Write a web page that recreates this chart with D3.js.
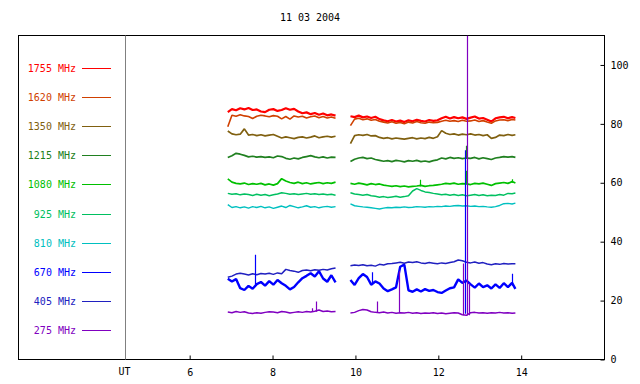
<!DOCTYPE html>
<html lang="en">
<head>
<meta charset="UTF-8">
<title>11 03 2004</title>
<script src="https://d3js.org/d3.v7.min.js"></script>
<style>
    *{margin:0;padding:0}
    body{background:#fff}
    svg text{font-family:"DejaVu Sans Mono",monospace;font-size:10px}
    .lines path{fill:none;stroke-linejoin:bevel}
</style>
</head>
<body>
<div id="chart"></div>
<script>
    // sampling times (UT hours) of the two recording sessions
    var hours1 = [6.92,7.02,7.12,7.22,7.32,7.42,7.52,7.62,7.72,7.82,7.92,8.02,8.12,8.22,8.32,8.42,8.52,8.62,8.72,8.82,8.92,9.02,9.12,9.22,9.32,9.42,9.52];
    var hours2 = [9.88,9.98,10.08,10.18,10.28,10.38,10.48,10.58,10.68,10.78,10.88,10.98,11.08,11.18,11.28,11.38,11.48,11.58,11.68,11.78,11.88,11.98,12.08,12.18,12.28,12.38,12.48,12.58,12.68,12.78,12.88,12.98,13.08,13.18,13.28,13.38,13.48,13.58,13.68,13.78,13.86];

    var channels = ['1755 MHz','1620 MHz','1350 MHz','1215 MHz','1080 MHz','925 MHz','810 MHz','670 MHz','405 MHz','275 MHz'];
    var colors = ['#ff0000','#d04000','#806010','#208020','#00c000','#00c060','#00c0c0','#0000ff','#2020c0','#8000c0'];
    // the noisier records look heavier in the original plot
    var widths = [2.2, 1.6, 1.7, 1.7, 1.7, 1.5, 1.4, 2.4, 1.5, 1.5];

    var s1755 = [
        [84.0,85.0,84.6,85.3,84.9,85.4,84.7,84.9,84.2,84.0,84.8,85.0,84.4,84.7,85.3,84.8,85.1,84.2,83.6,83.9,83.3,83.7,83.1,83.5,82.9,83.2,82.8],
        [82.6,82.3,82.8,82.2,82.5,82.0,82.4,81.6,81.2,80.9,81.3,80.8,81.1,80.6,81.2,80.9,81.4,81.0,80.8,81.3,81.0,81.2,81.9,82.4,81.8,82.3,81.9,82.2,81.7,82.1,82.5,81.8,82.0,81.4,80.8,81.9,82.2,82.4,81.9,82.3,82.0]
    ];
    var s1620 = [
        [79.0,82.9,82.6,83.1,82.7,82.5,81.8,82.6,82.9,82.7,82.4,82.8,82.6,81.7,82.5,81.6,82.7,82.3,82.6,82.0,82.4,82.7,82.1,82.5,82.0,82.3,81.9],
        [79.4,81.6,81.9,81.4,81.7,81.2,81.5,80.9,80.6,80.3,80.7,80.2,80.5,80.0,80.6,80.3,80.8,80.4,80.2,80.6,80.4,80.5,80.9,81.2,80.9,81.1,80.8,81.2,80.9,81.0,81.3,80.8,81.1,80.6,80.2,81.0,81.3,81.4,81.1,81.5,81.3]
    ];
    var s1350 = [
        [77.6,76.6,76.3,76.5,78.3,76.2,76.4,76.0,76.3,75.9,76.2,76.4,75.8,75.2,75.6,75.3,75.0,75.4,75.6,75.2,75.5,75.9,75.3,75.6,75.8,75.5,75.8],
        [73.3,76.0,76.3,76.1,76.4,75.9,76.0,75.4,75.1,75.3,74.9,75.2,75.0,74.8,75.1,75.3,74.9,75.2,75.0,75.4,75.1,75.6,77.7,76.8,76.4,76.6,76.2,76.5,76.3,76.6,76.2,76.4,76.0,76.3,75.1,75.4,76.2,76.0,76.4,76.1,76.3]
    ];
    var s1215 = [
        [68.6,69.2,70.0,69.7,69.3,68.8,69.0,68.7,68.9,68.6,68.8,68.5,69.1,68.9,68.3,68.0,68.4,68.1,68.6,68.9,69.2,68.8,68.5,68.8,68.4,68.7,68.6],
        [67.2,68.0,68.4,68.6,68.2,68.4,67.9,67.6,67.3,67.5,67.2,67.6,67.4,67.1,67.5,67.3,67.6,67.2,67.4,67.1,67.5,67.8,68.4,68.1,68.6,68.3,68.5,68.2,68.4,68.3,68.6,68.1,68.5,68.2,67.9,68.4,68.6,68.9,68.7,68.9,68.6]
    ];
    var s1080 = [
        [61.3,60.2,59.8,59.6,59.9,59.4,59.7,59.5,59.8,59.3,59.6,59.2,59.7,61.4,60.6,60.1,59.8,60.2,59.7,60.0,59.6,59.9,60.1,59.7,60.0,59.8,60.2],
        [59.8,59.5,59.9,59.6,59.3,59.7,59.4,59.6,59.2,59.0,58.8,59.0,58.7,58.9,58.6,58.8,58.9,59.1,58.8,59.0,59.1,59.3,59.5,59.8,59.6,59.9,59.5,59.7,59.6,59.4,59.8,59.6,59.9,59.5,59.1,59.7,59.9,60.1,59.8,60.4,59.9]
    ];
    var s925 = [
        [56.4,56.1,56.3,55.9,56.2,56.0,55.7,56.1,55.8,56.0,55.6,55.9,56.2,56.6,56.4,56.1,56.3,56.0,56.2,56.4,56.1,56.3,56.0,56.2,55.9,56.1,55.8],
        [56.6,56.2,56.0,55.8,56.0,55.6,55.4,55.1,55.3,55.0,55.2,55.4,55.1,55.3,55.6,57.2,58.0,57.4,56.9,56.7,56.4,56.2,55.9,56.1,55.8,56.0,55.7,55.9,55.6,55.8,56.0,55.7,55.9,55.6,55.8,55.7,56.0,55.8,56.4,56.3,56.5]
    ];
    var s810 = [
        [52.6,51.6,51.9,51.5,51.8,51.4,51.9,51.6,52.0,51.5,51.8,51.3,51.7,52.1,51.6,52.3,51.9,51.5,51.8,52.2,51.7,51.9,51.5,51.8,52.0,51.7,51.9],
        [52.8,52.2,52.0,51.8,51.7,51.5,51.3,51.1,51.4,51.6,51.5,51.7,51.6,51.8,51.6,51.7,51.9,51.8,51.7,51.9,51.8,52.0,51.9,52.1,52.0,52.2,52.3,52.1,52.2,52.0,52.1,51.9,52.0,51.8,51.7,51.9,52.3,52.9,53.0,52.8,53.1]
    ];
    var s670 = [
        [27.4,26.5,27.3,24.2,23.6,25.0,24.0,25.6,26.3,25.1,26.6,25.4,27.0,25.9,25.0,23.8,24.6,26.2,27.6,28.4,29.3,28.2,30.0,27.5,26.4,28.6,26.2],
        [27.0,25.3,27.6,29.0,28.0,25.4,26.5,25.8,24.1,23.2,23.8,24.5,31.5,32.2,23.5,23.0,23.8,23.1,23.9,23.3,23.6,22.9,22.6,23.4,24.2,24.5,27.2,26.0,26.8,25.5,24.4,25.8,24.6,25.2,24.1,25.5,24.3,25.9,24.6,26.0,24.0]
    ];
    var s405 = [
        [27.9,28.3,29.0,29.3,29.0,28.7,29.1,28.8,29.2,29.0,29.3,28.9,29.4,29.1,30.6,30.2,30.0,29.6,30.2,30.4,30.1,30.5,30.3,30.6,30.4,30.8,31.1],
        [31.8,32.1,31.9,32.2,31.8,32.0,31.7,32.3,32.1,32.5,32.6,32.8,33.0,32.7,33.1,32.9,33.2,32.8,32.6,32.9,32.7,32.5,32.8,32.6,32.9,33.2,33.8,33.5,33.0,32.8,33.1,32.7,32.9,32.4,32.2,32.5,32.3,32.6,32.4,32.5,32.5]
    ];
    var s275 = [
        [16.1,15.9,16.3,16.0,16.2,15.8,15.6,15.9,15.7,16.0,16.2,16.1,15.9,16.3,16.1,15.8,16.0,16.2,16.0,16.3,16.1,16.4,16.8,16.3,16.5,16.2,16.3],
        [15.8,16.0,16.6,17.0,16.8,16.2,16.0,15.9,16.1,15.8,16.0,15.7,15.9,15.8,16.0,15.7,15.9,15.6,15.8,15.7,15.9,15.6,15.8,15.5,15.7,15.9,15.8,15.2,15.0,15.9,16.0,15.8,15.9,15.7,15.9,15.8,16.0,15.8,15.9,15.7,15.8]
    ];
    var series = [s1755,s1620,s1350,s1215,s1080,s925,s810,s670,s405,s275];

    // short bursts: channel index, time, base and peak value
    var spikes = [
        {ch:7, t:7.58, lo:25.5, hi:35.6},
        {ch:7, t:10.40, lo:26.0, hi:29.6},
        {ch:7, t:13.77, lo:25.0, hi:29.1},
        {ch:7, t:12.64, lo:15.5, hi:71.0},
        {ch:3, t:12.68, lo:68.3, hi:72.6},
        {ch:4, t:12.68, lo:59.5, hi:64.1},
        {ch:4, t:11.56, lo:58.8, hi:61.0},
        {ch:4, t:13.77, lo:60.0, hi:61.2},
        {ch:9, t:8.95, lo:16.2, hi:17.4},
        {ch:9, t:9.05, lo:16.2, hi:19.7},
        {ch:9, t:10.52, lo:15.9, hi:19.7},
        {ch:9, t:11.06, lo:15.8, hi:30.0},
        {ch:9, t:12.60, lo:15.0, hi:32.6},
        {ch:9, t:12.74, lo:15.0, hi:25.8},
        {ch:9, t:12.70, lo:15.0, hi:110}
    ];

    var xTicks = [6, 8, 10, 12, 14];
    var yTicks = [0, 20, 40, 60, 80, 100];
    var title = '11 03 2004';
    var utHour = 4.43;

    var width = 640, height = 384;
    var mLeft = 18.5, mRight = 604.5, mTop = 35.5, mBottom = 359.5;

    var svg = d3.select('#chart').append('svg')
        .attr('width', width)
        .attr('height', height);

    var x = d3.scaleLinear().domain([1.87, 16.01]).range([mLeft, mRight]);
    var y = d3.scaleLinear().domain([0, 110]).range([mBottom, mTop]);

    svg.append('defs').append('clipPath').attr('id', 'plot')
        .append('rect')
        .attr('x', mLeft).attr('y', mTop)
        .attr('width', mRight - mLeft).attr('height', mBottom - mTop);

    // title
    svg.append('text')
        .attr('x', 310).attr('y', 21)
        .attr('text-anchor', 'middle')
        .text(title);

    // frame
    svg.append('rect')
        .attr('x', mLeft).attr('y', mTop)
        .attr('width', mRight - mLeft).attr('height', mBottom - mTop)
        .attr('fill', 'none').attr('stroke', '#000');

    // UT marker line
    var utX = Math.round(x(utHour)) + 0.5;
    svg.append('line')
        .attr('x1', utX).attr('x2', utX)
        .attr('y1', mTop).attr('y2', mBottom)
        .attr('stroke', '#808080');
    svg.append('text')
        .attr('x', utX - 1).attr('y', 375)
        .attr('text-anchor', 'middle')
        .text('UT');

    // axes
    var xAxis = svg.append('g')
        .attr('transform', 'translate(0,' + mBottom + ')')
        .call(d3.axisBottom(x).tickValues(xTicks).tickSize(-4).tickPadding(9).tickFormat(d3.format('d')));
    var yAxis = svg.append('g')
        .attr('transform', 'translate(' + mRight + ',0)')
        .call(d3.axisRight(y).tickValues(yTicks).tickSize(-4).tickPadding(6).tickFormat(d3.format('d')));
    [xAxis, yAxis].forEach(function (a) {
        a.select('.domain').remove();
        a.selectAll('text').attr('font-family', '"DejaVu Sans Mono",monospace').attr('font-size', 10).attr('fill', '#000');
        a.selectAll('line').attr('stroke', '#000');
    });
    yAxis.selectAll('.tick').filter(function (d) { return d === 0; })
        .select('text').attr('dy', '0.3em');

    // legend
    var legend = svg.append('g').attr('class', 'legend');
    channels.forEach(function (name, i) {
        var ly = 67.5 + i * 29.2;
        legend.append('text')
            .attr('x', 76).attr('y', ly + 4)
            .attr('text-anchor', 'end')
            .attr('fill', colors[i])
            .text(name);
        legend.append('line')
            .attr('x1', 82).attr('x2', 111)
            .attr('y1', Math.round(ly) + 0.5).attr('y2', Math.round(ly) + 0.5)
            .attr('stroke', colors[i]);
    });

    // data
    var hours = [hours1, hours2];
    var plot = svg.append('g').attr('class', 'lines').attr('clip-path', 'url(#plot)');
    series.forEach(function (s, i) {
        s.forEach(function (seg, k) {
            var line = d3.line()
                .x(function (v, j) { return x(hours[k][j]); })
                .y(function (v) { return y(v); });
            plot.append('path')
                .attr('d', line(seg))
                .attr('stroke', colors[i])
                .attr('stroke-width', widths[i]);
        });
    });

    plot.selectAll('.spike')
        .data(spikes)
        .enter()
        .append('line')
        .attr('class', 'spike')
        .attr('x1', function (d) { return Math.round(x(d.t)) + 0.5; })
        .attr('x2', function (d) { return Math.round(x(d.t)) + 0.5; })
        .attr('y1', function (d) { return y(d.lo); })
        .attr('y2', function (d) { return y(d.hi); })
        .attr('stroke', function (d) { return colors[d.ch]; })
        .attr('stroke-width', 1.2);
</script>
</body>
</html>
